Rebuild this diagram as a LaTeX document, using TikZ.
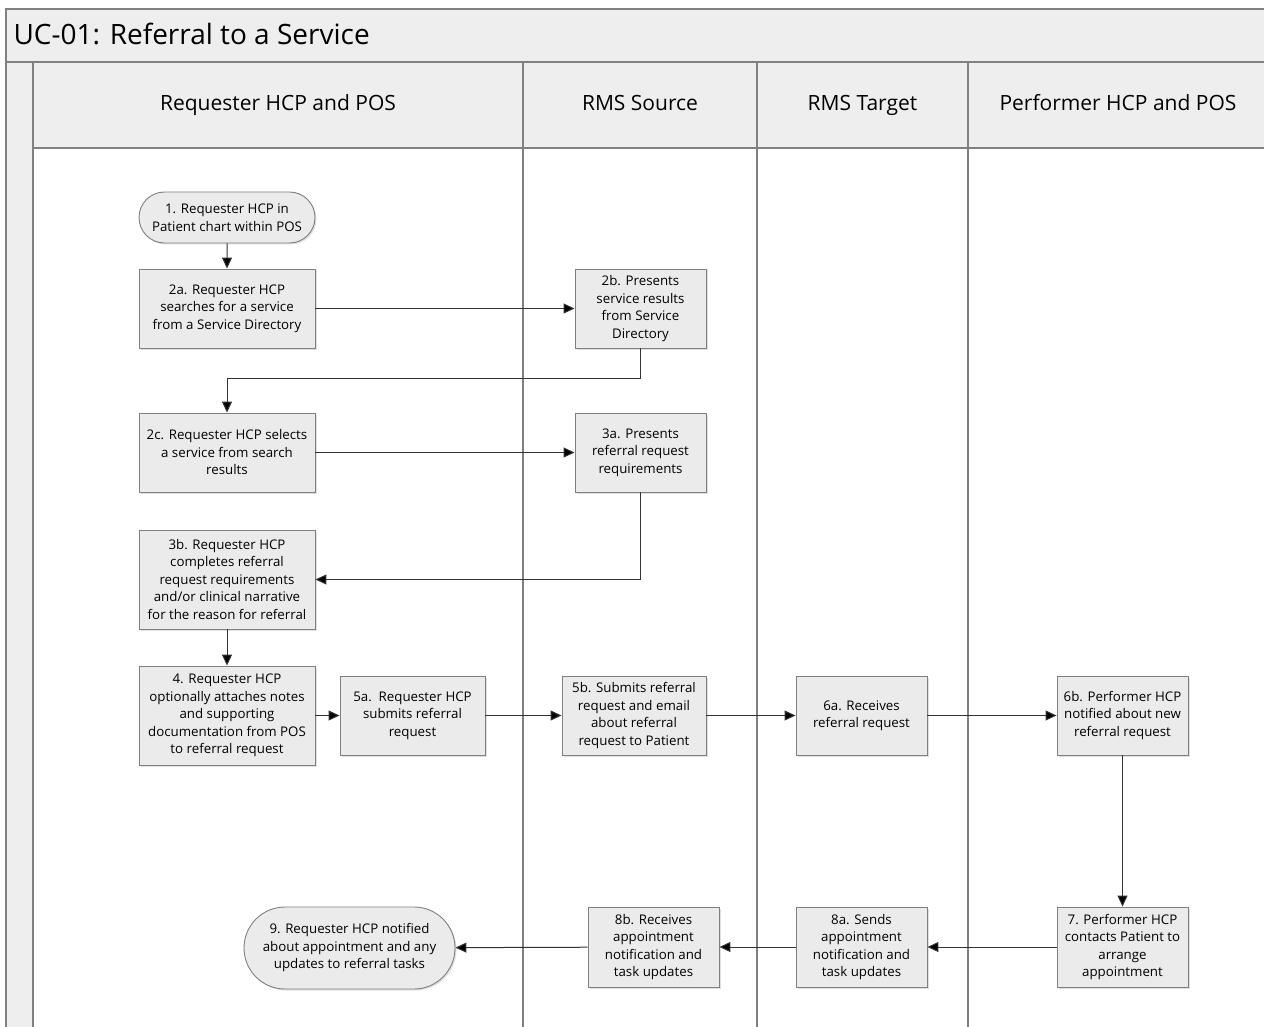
\documentclass[tikz,border=0pt]{standalone}
\usepackage{fontspec}
\setmainfont{Open Sans}
\usetikzlibrary{arrows.meta,shadows,shapes.misc}

\definecolor{headgray}{HTML}{EEEEEE}
\definecolor{boxgray}{HTML}{EBEBEB}
\definecolor{edgegray}{HTML}{808080}
\definecolor{flowgray}{HTML}{333333}

\tikzset{
	lane/.style={draw=edgegray, line width=1.3pt},
	stepbox/.style={draw=edgegray, fill=boxgray, line width=0.9pt, align=center, inner sep=0pt,
		font=\fontsize{13.3}{17.5}\selectfont,
		drop shadow={shadow xshift=1.5pt, shadow yshift=-1.5pt, opacity=0.25}},
	terminal/.style={stepbox, rounded rectangle},
	heading/.style={anchor=base, font=\fontsize{21}{24}\selectfont},
	flow/.style={draw=flowgray, line width=1pt, -{Triangle[length=11pt, width=10pt, fill=black]}}
}

\begin{document}
\begin{tikzpicture}[x=1pt, y=-1pt]
	\useasboundingbox (0,0) rectangle (1264,1027);
	\clip (0,0) rectangle (1264,1027);

	% pool, title and lanes
	\draw[lane, fill=headgray] (6,9) rectangle (1290,62);
	\draw[lane, fill=headgray] (6,62) rectangle (33,1040);
	\draw[lane, fill=headgray] (33,62) rectangle (1290,148);
	\draw[lane] (33,148) rectangle (1290,1040);
	\draw[lane] (523,62) -- (523,1040);
	\draw[lane] (757,62) -- (757,1040);
	\draw[lane] (968,62) -- (968,1040);

	\node[anchor=base west, font=\fontsize{28}{32}\selectfont] (title) at (10,45) {UC-01: Referral to a Service};
	\node[heading] (requester) at (278,111) {Requester HCP and POS};
	\node[heading] (source) at (640,111) {RMS Source};
	\node[heading] (target) at (862.5,111) {RMS Target};
	\node[heading] (performer) at (1118,111) {Performer HCP and POS};

	% steps
	\node[terminal, minimum width=176, minimum height=51] (start) at (227,217.5) {1. Requester HCP in\\Patient chart within POS};
	\node[stepbox, minimum width=176, minimum height=79] (search) at (227,308.5) {2a. Requester HCP\\searches for a service\\from a Service Directory};
	\node[stepbox, minimum width=131, minimum height=79] (results) at (640.5,308.5) {2b. Presents\\service results\\from Service\\Directory};
	\node[stepbox, minimum width=176, minimum height=79] (select) at (227,452.5) {2c. Requester HCP selects\\a service from search\\results};
	\node[stepbox, minimum width=131, minimum height=79] (reqs) at (640.5,452.5) {3a. Presents\\referral request\\requirements};
	\node[stepbox, minimum width=176, minimum height=99] (complete) at (227,579.5) {3b. Requester HCP\\completes referral\\request requirements\\and/or clinical narrative\\for the reason for referral};
	\node[stepbox, minimum width=176, minimum height=99] (attach) at (227,715.5) {4. Requester HCP\\optionally attaches notes\\and supporting\\documentation from POS\\to referral request};
	\node[stepbox, minimum width=145, minimum height=79] (submit) at (412.5,715.5) {5a.\ \ Requester HCP\\submits referral\\request};
	\node[stepbox, minimum width=144, minimum height=79] (email) at (634,715.5) {5b. Submits referral\\request and email\\about referral\\request to Patient};
	\node[stepbox, minimum width=131, minimum height=79] (receive) at (861.5,715.5) {6a. Receives\\referral request};
	\node[stepbox, minimum width=131, minimum height=79] (notify) at (1122.5,715.5) {6b. Performer HCP\\notified about new\\referral request};
	\node[stepbox, minimum width=131, minimum height=80] (contact) at (1122.5,947) {7. Performer HCP\\contacts Patient to\\arrange\\appointment};
	\node[stepbox, minimum width=131, minimum height=80] (sends) at (861.5,947) {8a. Sends\\appointment\\notification and\\task updates};
	\node[stepbox, minimum width=131, minimum height=80] (gets) at (653.5,947) {8b. Receives\\appointment\\notification and\\task updates};
	\node[terminal, minimum width=211, minimum height=82] (done) at (349.5,948) {9. Requester HCP notified\\about appointment and any\\updates to referral tasks};

	% flow
	\draw[flow] (start) -- (search);
	\draw[flow] (search) -- (results);
	\draw[flow] (results.south) -- ++(0,30) -| (select.north);
	\draw[flow] (select) -- (reqs);
	\draw[flow] (reqs.south) |- (complete.east);
	\draw[flow] (complete) -- (attach);
	\draw[flow] (attach) -- (submit);
	\draw[flow] (submit) -- (email);
	\draw[flow] (email) -- (receive);
	\draw[flow] (receive) -- (notify);
	\draw[flow] (notify) -- (contact);
	\draw[flow] (contact) -- (sends);
	\draw[flow] (sends) -- (gets);
	\draw[flow] (gets) -- (done);
\end{tikzpicture}
\end{document}
